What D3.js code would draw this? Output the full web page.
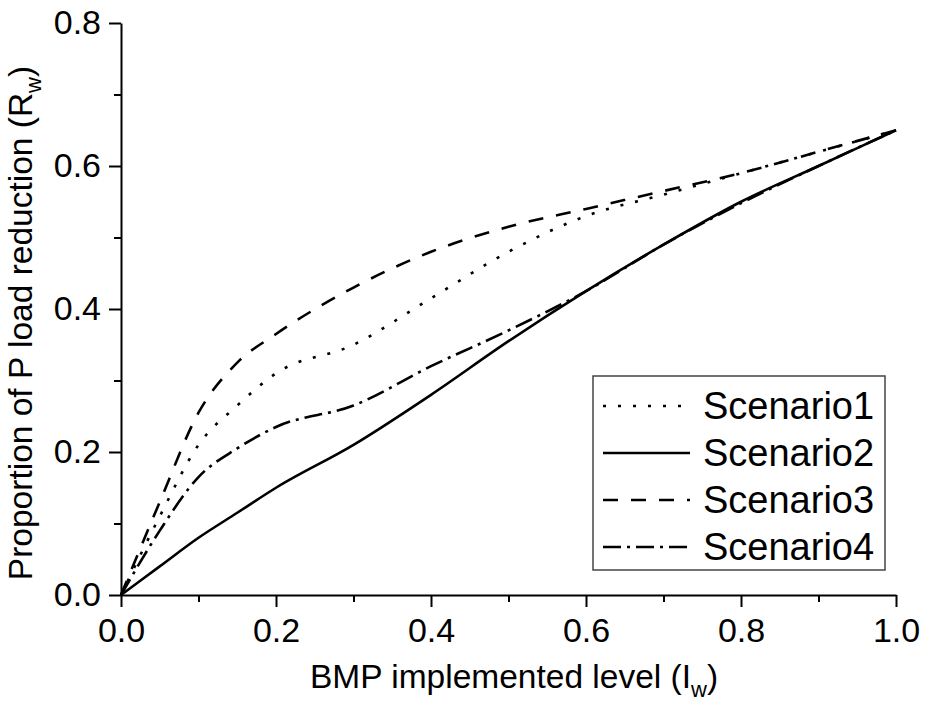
<!DOCTYPE html>
<html>
<head>
<meta charset="utf-8">
<script src="https://cdn.jsdelivr.net/npm/d3@7"></script>
<style>
  body { margin: 0; background: #fff; }
  svg { font-family: "Liberation Sans", Arial, sans-serif; }
</style>
</head>
<body>
<div id="chart"></div>
<script>
// BMP implemented level (x) and proportion of P load reduction per scenario
const levels = [0, 0.05, 0.1, 0.15, 0.2, 0.3, 0.4, 0.5, 0.6, 0.7, 0.8, 0.9, 1.0];
const scenario1 = [0, 0.11, 0.21, 0.265, 0.31, 0.35, 0.415, 0.48, 0.53, 0.56, 0.59, 0.62, 0.65];
const scenario2 = [0, 0.04, 0.08, 0.115, 0.15, 0.21, 0.28, 0.355, 0.425, 0.49, 0.55, 0.6, 0.65];
const scenario3 = [0, 0.13, 0.255, 0.325, 0.365, 0.43, 0.48, 0.515, 0.54, 0.565, 0.59, 0.62, 0.65];
const scenario4 = [0, 0.09, 0.165, 0.205, 0.235, 0.265, 0.32, 0.37, 0.425, 0.49, 0.548, 0.6, 0.65];
const seriesNames = ["Scenario1", "Scenario2", "Scenario3", "Scenario4"];
const xTicks = [0, 0.2, 0.4, 0.6, 0.8, 1.0];
const xMinor = [0.1, 0.3, 0.5, 0.7, 0.9];
const yTicks = [0, 0.2, 0.4, 0.6, 0.8];
const yMinor = [0.1, 0.3, 0.5, 0.7];

const size = { width: 931, height: 702, left: 121, right: 896, top: 23, bottom: 595 };

// stroke patterns, same order as seriesNames
const dashes = ["3,12", null, "15,13", "18,6,3,6"];

const x = d3.scaleLinear().domain([0, 1]).range([size.left, size.right]);
const y = d3.scaleLinear().domain([0, 0.8]).range([size.bottom, size.top]);

const svg = d3.select("#chart").append("svg")
  .attr("width", size.width)
  .attr("height", size.height);

// minor ticks
svg.append("g")
  .attr("transform", `translate(0,${size.bottom})`)
  .call(d3.axisBottom(x).tickValues(xMinor).tickSize(7).tickSizeOuter(0).tickFormat(""))
  .call(g => g.select(".domain").remove());
svg.append("g")
  .attr("transform", `translate(${size.left},0)`)
  .call(d3.axisLeft(y).tickValues(yMinor).tickSize(7).tickSizeOuter(0).tickFormat(""))
  .call(g => g.select(".domain").remove());

// major axes
const xAxis = svg.append("g")
  .attr("transform", `translate(0,${size.bottom})`)
  .call(d3.axisBottom(x).tickValues(xTicks).tickSize(12).tickSizeOuter(0).tickFormat(d3.format(".1f")));
xAxis.selectAll("text").attr("y", 23).attr("dy", "0.71em");

const yAxis = svg.append("g")
  .attr("transform", `translate(${size.left},0)`)
  .call(d3.axisLeft(y).tickValues(yTicks).tickSize(12).tickSizeOuter(0).tickFormat(d3.format(".1f")));
yAxis.selectAll("text").attr("x", -20);

svg.selectAll(".tick line, .domain").attr("stroke", "#000").attr("stroke-width", 2);
svg.selectAll(".tick text").attr("font-size", 34).attr("fill", "#000")
  .attr("font-family", "Liberation Sans, Arial, sans-serif");

// axis titles
const xt = svg.append("text")
  .attr("x", 514)
  .attr("y", 688)
  .attr("text-anchor", "middle")
  .attr("font-size", 33.5);
xt.append("tspan").text("BMP implemented level (I");
xt.append("tspan").attr("font-size", 22).attr("dy", 9).text("w");
xt.append("tspan").attr("dy", -9).text(")");

const yt = svg.append("text")
  .attr("transform", `translate(32,${(size.top + size.bottom) / 2 + 14}) rotate(-90)`)
  .attr("text-anchor", "middle")
  .attr("font-size", 33.5);
yt.append("tspan").text("Proportion of P load reduction (R");
yt.append("tspan").attr("font-size", 22).attr("dy", 9).text("w");
yt.append("tspan").attr("dy", -9).text(")");

// curves
const allSeries = [scenario1, scenario2, scenario3, scenario4];
const line = d3.line()
  .x(d => x(d[0]))
  .y(d => y(d[1]))
  .curve(d3.curveMonotoneX);

allSeries.forEach((vals, i) => {
  svg.append("path")
    .datum(levels.map((l, j) => [l, vals[j]]))
    .attr("d", line)
    .attr("fill", "none")
    .attr("stroke", "#000")
    .attr("stroke-width", 2.6)
    .attr("stroke-dasharray", dashes[i]);
});

// legend
const legend = svg.append("g");
legend.append("rect")
  .attr("x", 593).attr("y", 376)
  .attr("width", 292).attr("height", 194)
  .attr("fill", "#fff")
  .attr("stroke", "#444")
  .attr("stroke-width", 1.5);

seriesNames.forEach((name, i) => {
  const base = 419 + i * 47;
  legend.append("line")
    .attr("x1", 603).attr("x2", 690)
    .attr("y1", base - 13).attr("y2", base - 13)
    .attr("stroke", "#000")
    .attr("stroke-width", 2.6)
    .attr("stroke-dasharray", dashes[i]);
  legend.append("text")
    .attr("x", 703).attr("y", base)
    .attr("font-size", 38)
    .text(name);
});
</script>
</body>
</html>
